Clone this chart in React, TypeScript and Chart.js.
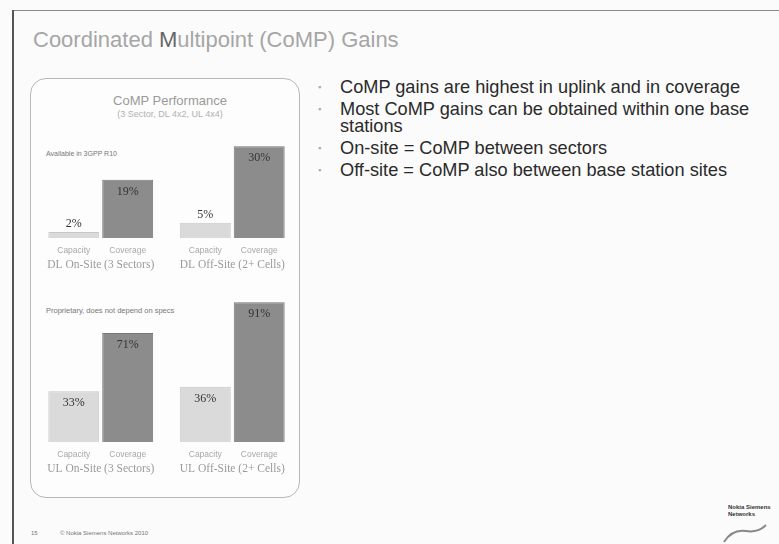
import React, { useEffect, useRef } from "react";
import { Chart, registerables } from "chart.js";

Chart.register(...registerables);

// ---- data ----
const barLabels = ["Capacity", "Coverage"];
const dlGroups = ["DL On-Site (3 Sectors)", "DL Off-Site (2+ Cells)"];
const ulGroups = ["UL On-Site (3 Sectors)", "UL Off-Site (2+ Cells)"];
const dlCapacity = [2, 5];
const dlCoverage = [19, 30];
const ulCapacity = [33, 36];
const ulCoverage = [71, 91];
const dlMax = 32;
const ulMax = 95;

const bullets = [
  "CoMP gains are highest in uplink and in coverage",
  "Most CoMP gains can be obtained within one base stations",
  "On-site = CoMP between sectors",
  "Off-site = CoMP also between base station sites",
];

const LIGHT = "#dadada";
const DARK = "#8c8c8c";

const barTextPlugin = {
  id: "barText",
  afterDatasetsDraw(chart: any) {
    const ctx = chart.ctx;
    const xs = chart.scales.x;
    const base = chart.chartArea.bottom;
    ctx.save();
    ctx.textAlign = "center";
    ctx.textBaseline = "middle";
    chart.data.datasets.forEach((ds: any, di: number) => {
      const meta = chart.getDatasetMeta(di);
      meta.data.forEach((bar: any, i: number) => {
        const h = bar.base - bar.y;
        const v = ds.data[i];
        ctx.font = "12px 'Liberation Serif', serif";
        ctx.fillStyle = "#333";
        const ly = h > 28 ? bar.y + 12 : bar.y - 8;
        ctx.fillText(v + "%", bar.x, ly);
        ctx.font = "8.5px 'Liberation Sans', Arial, sans-serif";
        ctx.fillStyle = "#a8a8a8";
        ctx.fillText(ds.label, bar.x, bar.base + 13);
      });
    });
    ctx.font = "11.5px 'Liberation Serif', serif";
    ctx.fillStyle = "#9a9a9a";
    (chart.data.labels as string[]).forEach((lab: string, i: number) => {
      ctx.fillText(lab, xs.getPixelForValue(i), base + 27);
    });
    ctx.restore();
  },
};

function BarPanel(props: {
  groups: string[];
  capacity: number[];
  coverage: number[];
  max: number;
  padTop: number;
  height: number;
}) {
  const ref = useRef<HTMLCanvasElement | null>(null);
  useEffect(() => {
    if (!ref.current) return;
    const chart = new Chart(ref.current, {
      type: "bar",
      data: {
        labels: props.groups,
        datasets: [
          {
            label: barLabels[0],
            data: props.capacity,
            backgroundColor: LIGHT,
            borderColor: "#c8c8c8",
            borderWidth: 1,
          },
          {
            label: barLabels[1],
            data: props.coverage,
            backgroundColor: DARK,
            borderColor: "#767676",
            borderWidth: 1,
          },
        ],
      },
      options: {
        animation: false,
        responsive: false,
        maintainAspectRatio: false,
        datasets: { bar: { barPercentage: 0.945, categoryPercentage: 0.82 } },
        layout: { padding: { left: 5, right: 7, top: props.padTop, bottom: 36 } },
        plugins: { legend: { display: false }, tooltip: { enabled: false }, title: { display: false } },
        scales: {
          x: { display: false },
          y: { display: false, min: 0, max: props.max },
        },
      },
      plugins: [barTextPlugin],
    });
    return () => chart.destroy();
  }, []);
  return <canvas ref={ref} width={275} height={props.height} style={{ display: "block" }} />;
}

export default function App() {
  const sans = "'Liberation Sans', Arial, sans-serif";
  return (
    <div
      style={{
        position: "absolute",
        left: 0,
        top: 0,
        width: 779,
        height: 544,
        background: "#fbfbfb",
        overflow: "hidden",
        fontFamily: sans,
      }}
    >
      {/* frame lines */}
      <div style={{ position: "absolute", left: 12, top: 10, width: 767, height: 1, background: "#8a8a8a" }} />
      <div style={{ position: "absolute", left: 12, top: 10, width: 2, height: 534, background: "#555" }} />

      {/* title */}
      <div style={{ position: "absolute", left: 33, top: 27, fontSize: 22, color: "#a6a6a6", whiteSpace: "nowrap" }}>
        Coordinated <span style={{ color: "#666" }}>M</span>ultipoint (CoMP) Gains
      </div>

      {/* rounded box */}
      <div
        style={{
          position: "absolute",
          left: 30,
          top: 78,
          width: 268,
          height: 418,
          border: "1.5px solid #b8b8b8",
          borderRadius: 16,
          background: "#fdfdfd",
        }}
      />
      <div style={{ position: "absolute", left: 34, top: 93, width: 272, textAlign: "center", fontSize: 13, color: "#9a9a9a" }}>
        CoMP Performance
      </div>
      <div style={{ position: "absolute", left: 34, top: 109, width: 272, textAlign: "center", fontSize: 9, color: "#b0b0b0" }}>
        (3 Sector, DL 4x2, UL 4x4)
      </div>
      <div style={{ position: "absolute", left: 46, top: 150, fontSize: 7, color: "#777" }}>Available in 3GPP R10</div>
      <div style={{ position: "absolute", left: 46, top: 306, fontSize: 7.5, color: "#777" }}>
        Proprietary, does not depend on specs
      </div>

      <div style={{ position: "absolute", left: 30, top: 125 }}>
        <BarPanel groups={dlGroups} capacity={dlCapacity} coverage={dlCoverage} max={dlMax} padTop={15} height={149} />
      </div>
      <div style={{ position: "absolute", left: 30, top: 285 }}>
        <BarPanel groups={ulGroups} capacity={ulCapacity} coverage={ulCoverage} max={ulMax} padTop={11} height={193} />
      </div>

      {/* bullets */}
      <div style={{ position: "absolute", left: 318, top: 79, width: 442, fontSize: 18.2, color: "#2a2a2a", lineHeight: "17px" }}>
        {bullets.map((b, i) => (
          <div key={i} style={{ position: "relative", paddingLeft: 22, marginBottom: 5 }}>
            <span style={{ position: "absolute", left: 0, top: 0, color: "#aaa", fontSize: 9 }}>▪</span>
            {b}
          </div>
        ))}
      </div>

      {/* footer */}
      <div style={{ position: "absolute", left: 31, top: 530, fontSize: 6, color: "#777" }}>15</div>
      <div style={{ position: "absolute", left: 60, top: 530, fontSize: 6, color: "#777" }}>© Nokia Siemens Networks 2010</div>
      <div style={{ position: "absolute", left: 728, top: 504, fontSize: 6, lineHeight: "7px", color: "#333", fontWeight: "bold" }}>
        Nokia Siemens
        <br />
        Networks
      </div>
      <svg style={{ position: "absolute", left: 720, top: 515 }} width={50} height={30}>
        <path d="M 4 27 Q 12 14 26 16 Q 38 18 46 10" stroke="#888" strokeWidth={2} fill="none" />
      </svg>
    </div>
  );
}
